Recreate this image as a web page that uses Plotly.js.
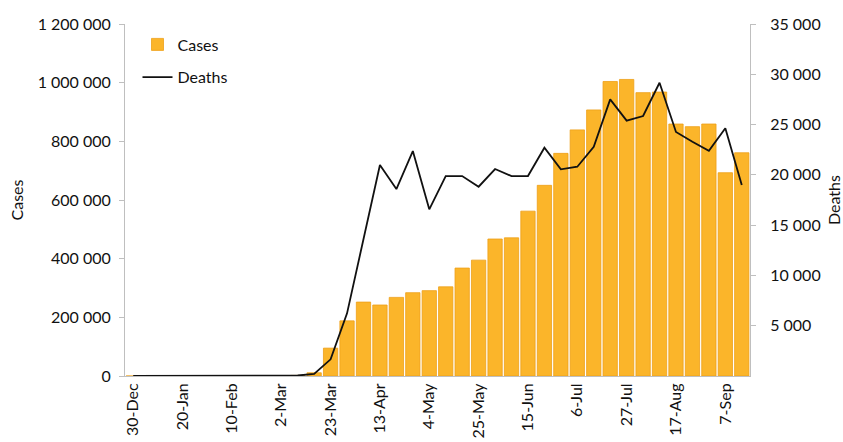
<!DOCTYPE html>
<html>
<head>
<meta charset="utf-8">
<script src="https://cdn.plot.ly/plotly-3.0.1.min.js"></script>
<style>html,body{margin:0;padding:0;background:#fff;}#chart{width:843px;height:442px;}</style>
</head>
<body>
<div id="chart"></div>
<script>
const weeks = ["30-Dec","6-Jan","13-Jan","20-Jan","27-Jan","3-Feb","10-Feb","17-Feb","24-Feb","2-Mar",
  "9-Mar","16-Mar","23-Mar","30-Mar","6-Apr","13-Apr","20-Apr","27-Apr","4-May","11-May",
  "18-May","25-May","1-Jun","8-Jun","15-Jun","22-Jun","29-Jun","6-Jul","13-Jul","20-Jul",
  "27-Jul","3-Aug","10-Aug","17-Aug","24-Aug","31-Aug","7-Sep","14-Sep"];
const cases = [0,0,0,0,0,0,0,0,0,300,
  2000,11000,95000,188000,252000,242000,268000,284000,291000,304000,
  368000,395000,467000,471000,562000,650000,759000,839000,907000,1004000,
  1011000,966000,968000,859000,850000,859000,693000,761000];
const deaths = [0,0,0,0,0,0,0,0,0,10,
  50,200,1660,6230,13500,20980,18590,22370,16570,19880,
  19880,18820,20580,19880,19880,22700,20550,20810,22800,27510,
  25390,25850,29160,24260,23300,22400,24630,18990];
const tickWeeks = weeks.filter((w, i) => i % 3 === 0);

const font = {family: "Lato, Open Sans, sans-serif", size: 16, color: "#111"};

const data = [
  {type: "bar", name: "Cases", x: weeks, y: cases, yaxis: "y",
   marker: {color: "#FBB52A", line: {color: "#EE9F18", width: 0.8}}, legendgroup: "a"},
  {type: "scatter", mode: "lines", name: "Deaths", x: weeks, y: deaths, yaxis: "y2",
   line: {color: "#111", width: 1.8}, legendgroup: "b"}
];

const layout = {
  width: 843, height: 442,
  margin: {l: 125, r: 93, t: 24, b: 66},
  paper_bgcolor: "#fff", plot_bgcolor: "#fff",
  font: font,
  separators: ". ",
  bargap: 0.13,
  showlegend: true,
  legend: {x: 0.02, y: 0.99, xanchor: "left", yanchor: "top", bgcolor: "rgba(0,0,0,0)",
           font: {family: font.family, size: 16, color: "#111"}, tracegroupgap: 9, itemwidth: 30},
  xaxis: {type: "category", range: [-0.5, 37.5], tickmode: "array", tickvals: tickWeeks, ticktext: tickWeeks,
          tickangle: -90, showgrid: false, zeroline: false, showline: true, linecolor: "#BFBFBF", linewidth: 1,
          ticks: "", automargin: false, tickfont: font},
  yaxis: {range: [0, 1200000], tickvals: [0,200000,400000,600000,800000,1000000,1200000], tickformat: ",d",
          showgrid: false, zeroline: false, showline: true, linecolor: "#BFBFBF", linewidth: 1,
          ticks: "outside", ticklen: 5, tickcolor: "#BFBFBF", automargin: false, tickfont: font,
          ticklabelstandoff: 5,
          title: {text: "Cases", font: font, standoff: 10}},
  yaxis2: {range: [0, 35000], overlaying: "y", side: "right", tickvals: [5000,10000,15000,20000,25000,30000,35000],
           tickformat: ",d", showgrid: false, zeroline: false, showline: true, linecolor: "#BFBFBF", linewidth: 1,
           ticks: "outside", ticklen: 5, tickcolor: "#BFBFBF", automargin: false, tickfont: font,
           ticklabelstandoff: 11,
           title: {text: "Deaths", font: font, standoff: 12}}
};

Plotly.newPlot("chart", data, layout, {staticPlot: true, displayModeBar: false});
</script>
</body>
</html>
